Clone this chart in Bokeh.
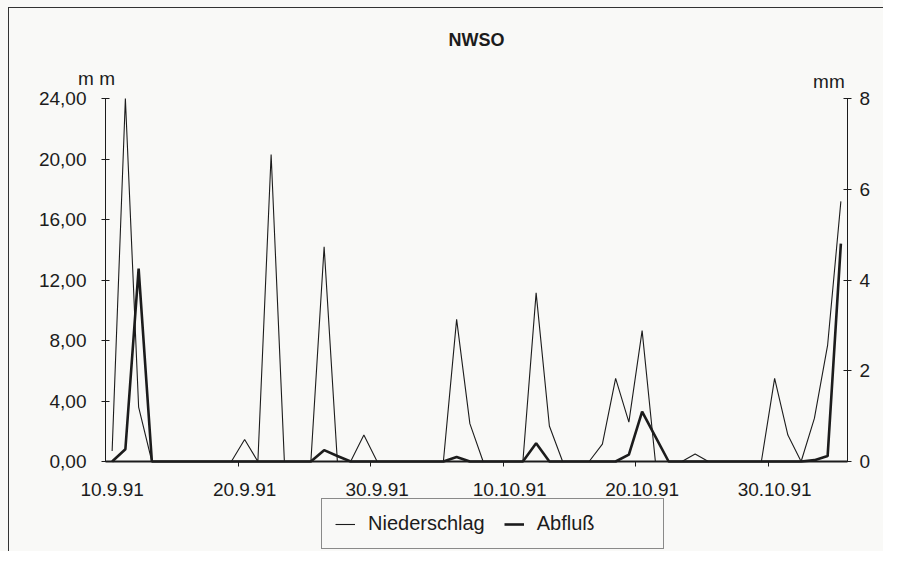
from bokeh.plotting import figure
from bokeh.models import (Range1d, LinearAxis, FixedTicker, Label, Legend,
                          LegendItem, ColumnDataSource)
from bokeh.embed import file_html
from bokeh.resources import INLINE

# ---- data (daily values, 10.9.91 .. 4.11.91) ----
day_index = list(range(56))
niederschlag = [0.7, 24.0, 3.6, 0, 0, 0, 0, 0, 0, 0,
                1.45, 0, 20.3, 0, 0, 0, 14.2, 0, 0, 1.75,
                0, 0, 0, 0, 0, 0, 9.4, 2.5, 0, 0,
                0, 0, 11.15, 2.35, 0, 0, 0, 1.15, 5.5, 2.6,
                8.65, 0, 0, 0, 0.5, 0, 0, 0, 0, 0,
                5.5, 1.75, 0, 2.85, 7.7, 17.2]
abfluss = [0, 0.27, 4.25, 0, 0, 0, 0, 0, 0, 0,
           0, 0, 0, 0, 0, 0, 0.25, 0.12, 0, 0,
           0, 0, 0, 0, 0, 0, 0.1, 0, 0, 0,
           0, 0, 0.4, 0, 0, 0, 0, 0, 0, 0.15,
           1.1, 0.55, 0, 0, 0, 0, 0, 0, 0, 0,
           0, 0, 0, 0.03, 0.12, 4.8]
x_tick_days = [0, 10, 20, 30, 40, 50]
x_tick_labels = ["10.9.91", "20.9.91", "30.9.91", "10.10.91", "20.10.91", "30.10.91"]
left_ticks = [0, 4, 8, 12, 16, 20, 24]
left_tick_labels = ["0,00", "4,00", "8,00", "12,00", "16,00", "20,00", "24,00"]
right_ticks = [0, 2, 4, 6, 8]
title_text = "NWSO"
unit_text = "mm"
series_names = ["Niederschlag", "Abfluß"]

INK = "#1c1c1c"
BG = "#f9f9f7"
FONT = "Liberation Sans"

# ---- layout geometry (canvas pixels) ----
W, H = 883, 551
X0, X1 = 105, 847          # day 0 / day 56
Y0, Y1 = 461, 98           # 0 mm / 24 mm
n_days = 56
y_max = 24
r_max = 8
px_day = (X1 - X0) / n_days
px_mm = (Y0 - Y1) / y_max

x_range = Range1d(-X0 / px_day, (W - X0) / px_day)
y_range = Range1d(-(H - Y0) / px_mm, Y0 / px_mm)
r_scale = r_max / y_max
r_range = Range1d(y_range.start * r_scale, y_range.end * r_scale)

source = ColumnDataSource(dict(
    x=[d + 0.5 for d in day_index],
    n=niederschlag,
    a=abfluss,
))

p = figure(width=W, height=H, output_backend="svg", toolbar_location=None,
           x_range=x_range, y_range=y_range,
           min_border=0, min_border_left=0, min_border_right=0,
           min_border_top=0, min_border_bottom=0,
           background_fill_color=None, border_fill_color=None,
           outline_line_color=None)
p.title.text = ""
p.styles = {"background-color": BG,
            "box-shadow": "inset 8px 7px 0 0 %s, inset 9px 8px 0 0 #333" % BG}
p.extra_y_ranges = {"right": r_range}
p.grid.visible = False

# left axis (fixed at day 0)
ya = p.yaxis[0]
ya.fixed_location = 0
ya.bounds = (0, y_max)
ya.ticker = FixedTicker(ticks=left_ticks, minor_ticks=[])
ya.major_label_overrides = {t: s for t, s in zip(left_ticks, left_tick_labels)}
ya.major_tick_in = 4
ya.major_tick_out = 4
ya.major_label_standoff = 15
ya.axis_line_color = INK
ya.major_tick_line_color = INK
ya.major_label_text_font = FONT
ya.major_label_text_font_size = "19px"
ya.major_label_text_color = INK

# right axis (fixed at day 56)
ra = LinearAxis(y_range_name="right",
                ticker=FixedTicker(ticks=right_ticks, minor_ticks=[]))
ra.fixed_location = n_days
ra.bounds = (0, r_max)
ra.major_tick_in = 4
ra.major_tick_out = 4
ra.major_label_standoff = 8
ra.axis_line_color = INK
ra.major_tick_line_color = INK
ra.major_label_text_font = FONT
ra.major_label_text_font_size = "19px"
ra.major_label_text_color = INK
p.add_layout(ra, "right")

# bottom axis: labels centred on the day, tick marks at day boundaries
xa = p.xaxis[0]
xa.fixed_location = 0
xa.bounds = (0, n_days)
xa.ticker = FixedTicker(ticks=[d + 0.5 for d in x_tick_days],
                        minor_ticks=[d for d in x_tick_days if d > 0])
xa.major_label_overrides = {d + 0.5: s for d, s in zip(x_tick_days, x_tick_labels)}
xa.major_tick_in = 0
xa.major_tick_out = 0
xa.minor_tick_in = 0
xa.minor_tick_out = 5
xa.minor_tick_line_color = INK
xa.axis_line_color = INK
xa.axis_line_width = 2
xa.major_label_standoff = 16
xa.major_label_text_font = FONT
xa.major_label_text_font_size = "19px"
xa.major_label_text_color = INK

# lines
rn = p.line("x", "n", source=source, line_color=INK, line_width=1.1)
rab = p.line("x", "a", source=source, line_color=INK, line_width=2.6,
             y_range_name="right")

# texts
p.add_layout(Label(x=28, y=27.84, text=title_text, text_align="center",
                   text_baseline="alphabetic", text_font=FONT,
                   text_font_size="18px", text_font_style="bold", text_color=INK))
p.add_layout(Label(x=-0.68, y=25.32, text="m m", text_align="center",
                   text_baseline="alphabetic", text_font=FONT,
                   text_font_size="19px", text_color=INK))
p.add_layout(Label(x=54.6, y=25.12, text=unit_text, text_align="center",
                   text_baseline="alphabetic", text_font=FONT,
                   text_font_size="19px", text_color=INK))

legend = Legend(items=[LegendItem(label=series_names[0], renderers=[rn]),
                       LegendItem(label=series_names[1], renderers=[rab])],
                orientation="horizontal", location=(321, 2),
                border_line_color=INK, border_line_width=1,
                background_fill_color=BG, background_fill_alpha=1,
                label_text_font=FONT, label_text_font_size="20px",
                label_text_color=INK, glyph_width=20, label_standoff=13,
                spacing=19, padding=13, label_width=113, margin=0)
p.add_layout(legend)

open("out.html", "w").write(file_html(p, INLINE))
